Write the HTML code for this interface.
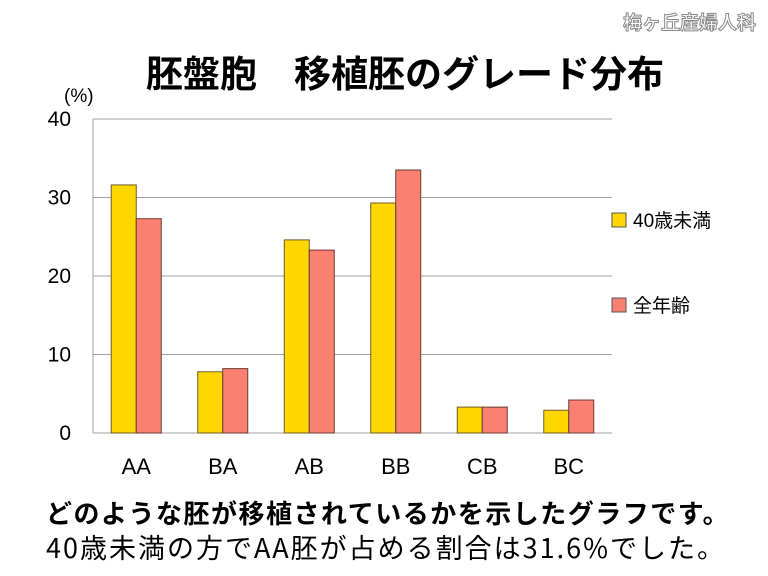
<!DOCTYPE html>
<html><head><meta charset="utf-8">
<style>
html,body{margin:0;padding:0;background:#fff;}
body{width:768px;height:576px;position:relative;overflow:hidden;font-family:"Liberation Sans","Noto Sans CJK JP",sans-serif;}
.abs{position:absolute;white-space:nowrap;}
</style></head>
<body>
<div class="abs" style="right:12px;top:8px;font-size:19px;color:#fff;-webkit-text-stroke:1px #888;font-weight:bold;font-family:'Noto Sans CJK JP',sans-serif;">梅ヶ丘産婦人科</div>
<div class="abs" style="left:0;width:810px;text-align:center;top:44px;font-size:37px;font-weight:bold;font-family:'Noto Sans CJK JP',sans-serif;">胚盤胞　移植胚のグレード分布</div>
<svg id="chart" width="768" height="576" style="position:absolute;left:0;top:0" xmlns="http://www.w3.org/2000/svg"></svg>
<div class="abs" style="left:46px;top:494px;font-size:26px;font-weight:bold;letter-spacing:1.5px;font-family:'Noto Sans CJK JP',sans-serif;">どのような胚が移植されているかを示したグラフです。</div>
<div class="abs" style="left:46px;top:527px;font-size:27px;letter-spacing:2px;font-family:'Noto Sans CJK JP',sans-serif;">40歳未満の方でAA胚が占める割合は31.6%でした。</div>
<script>
const categories=["AA","BA","AB","BB","CB","BC"];
const under40=[31.6,7.8,24.6,29.3,3.3,2.9];
const allAges=[27.3,8.2,23.3,33.5,3.3,4.2];
const yTicks=[0,10,20,30,40];
const seriesNames=["40歳未満","全年齢"];
const svg=document.getElementById('chart');
const NS="http://www.w3.org/2000/svg";
const L=93,R=612,T=119,B=433,YMAX=40;
const y=v=>B-(v/YMAX)*(B-T);
const gw=(R-L)/categories.length;
const x=i=>L+gw*i+gw/2;
function mk(tag,attrs,parent){const e=document.createElementNS(NS,tag);for(const k in attrs)e.setAttribute(k,attrs[k]);(parent||svg).appendChild(e);return e;}
yTicks.forEach(t=>{
  const l=mk('line',{x1:L,x2:R,y1:y(t),y2:y(t),stroke:'#a0a0a0','stroke-width':1});
  
  
  const tx=mk('text',{x:71,y:y(t)+7,'text-anchor':'end','font-size':21,fill:'#000','font-family':'Liberation Sans, sans-serif'});
  tx.textContent=t;
  
  
});
const ax=mk('line',{x1:L,x2:L,y1:T,y2:B,stroke:'#a0a0a0','stroke-width':1});


const unit=mk('text',{x:64,y:102,'font-size':19,'font-family':'Liberation Sans, sans-serif'});
unit.textContent='(%)';


const bw=25;
categories.forEach((c,i)=>{
  const a=mk('rect',{x:x(i)-bw,y:y(under40[i]),width:bw,height:B-y(under40[i]),fill:'#ffd700',stroke:'#6b5a2a','stroke-width':1});
  
  
  const b=mk('rect',{x:x(i),y:y(allAges[i]),width:bw,height:B-y(allAges[i]),fill:'#fa8072',stroke:'#6b3a32','stroke-width':1});
  
  
  const t=mk('text',{x:x(i),y:474,'text-anchor':'middle','font-size':22,'font-family':'Liberation Sans, sans-serif'});
  t.textContent=c;
  
  
});
const colors=['#ffd700','#fa8072'];
const ly=[220,305];
seriesNames.forEach((n,i)=>{
  const r=mk('rect',{x:612,y:ly[i]-7,width:14,height:14,fill:colors[i],stroke:'#555','stroke-width':1});
  
  
  const t=mk('text',{x:633,y:ly[i]+7,'font-size':19,'font-family':'Liberation Sans, Noto Sans CJK JP, sans-serif'});
  t.textContent=n;
  
  
});
</script>
</body></html>
